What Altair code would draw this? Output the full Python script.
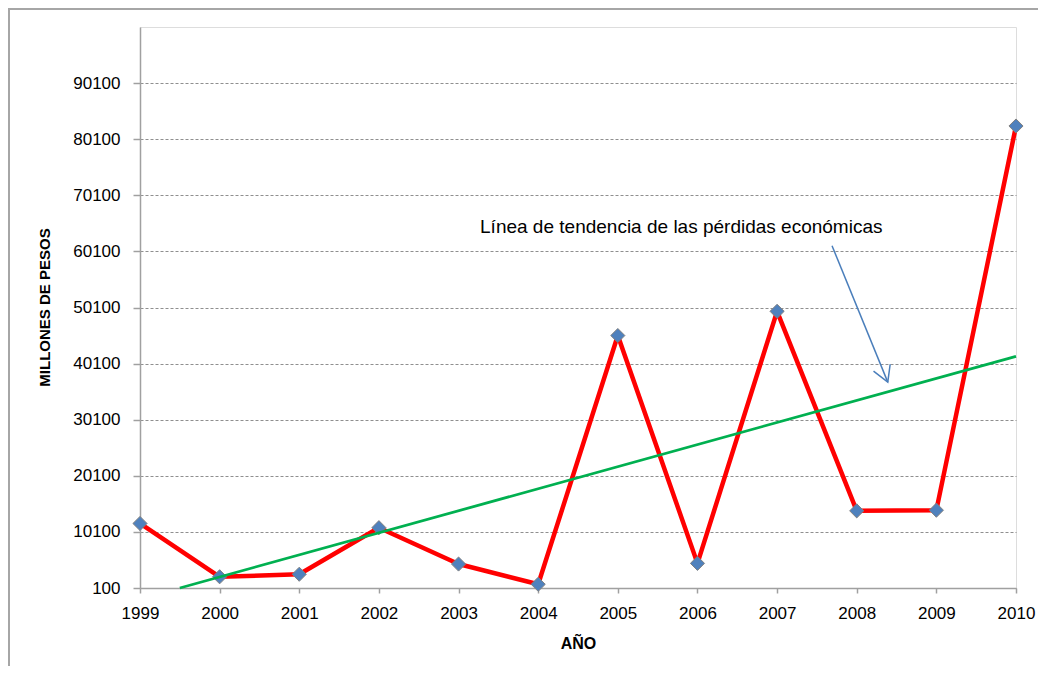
import altair as alt
import pandas as pd

# ---- data ----
years = [1999, 2000, 2001, 2002, 2003, 2004, 2005, 2006, 2007, 2008, 2009, 2010]
losses = [11600, 2100, 2550, 10850, 4370, 760, 45100, 4490, 49420, 13850, 13970, 82450]

trend_years = [1999.5, 2010]
trend_values = [100, 41400]

y_ticks = [100, 10100, 20100, 30100, 40100, 50100, 60100, 70100, 80100, 90100]
x_ticks = years

note_text = "Línea de tendencia de las pérdidas económicas"
note_pos = {"x": 2003.27, "y": 64400}
arrow_from = {"x": 2007.69, "y": 61100}
arrow_to = {"x": 2008.39, "y": 36800}

FONT = "Liberation Sans"
W, H = 876, 561
PAD = {"left": 132, "top": 19, "right": 22, "bottom": 78}

df = pd.DataFrame({"year": years, "loss": losses})
trend = pd.DataFrame({"year": trend_years, "loss": trend_values})

xscale = alt.Scale(domain=[1999, 2010], nice=False, zero=False)
yscale = alt.Scale(domain=[100, 100100], nice=False, zero=False)

xaxis = alt.Axis(
    values=x_ticks, format="d", title="AÑO", grid=False,
    labelFont=FONT, labelFontSize=17, labelColor="#000000",
    labelBaseline="middle", labelPadding=20, labelFlush=False,
    tickSize=5, tickColor="#a0a0a0", tickWidth=1.5,
    domainColor="#a0a0a0", domainWidth=1.5,
    titleFont=FONT, titleFontSize=16, titleFontWeight="bold", titleColor="#000000",
    titleY=55, titleBaseline="middle",
)
yaxis = alt.Axis(
    values=y_ticks, format="d", title="MILLONES DE PESOS",
    grid=True, gridColor="#8f8f8f", gridDash=[3, 2], gridWidth=1,
    labelFont=FONT, labelFontSize=17, labelColor="#000000",
    labelPadding=13, labelBaseline="middle",
    tickSize=7, tickColor="#a0a0a0", tickWidth=1.5,
    domainColor="#a0a0a0", domainWidth=1.5,
    titleFont=FONT, titleFontSize=15, titleFontWeight="bold", titleColor="#000000",
    titleX=-96, titleY=280, titleAngle=-90, titleBaseline="middle", titleAlign="center",
)

base = alt.Chart(df)

red_line = base.mark_line(color="#ff0000", strokeWidth=4.5, strokeJoin="round").encode(
    x=alt.X("year:Q", scale=xscale, axis=xaxis),
    y=alt.Y("loss:Q", scale=yscale, axis=yaxis),
)

markers = base.mark_point(
    shape="diamond", size=200, filled=True, fill="#4f81bd",
    stroke="#808080", strokeWidth=1, opacity=1,
).encode(
    x=alt.X("year:Q", scale=xscale),
    y=alt.Y("loss:Q", scale=yscale),
)

trend_line = alt.Chart(trend).mark_line(color="#00b050", strokeWidth=2.75).encode(
    x=alt.X("year:Q", scale=xscale),
    y=alt.Y("loss:Q", scale=yscale),
)

note = alt.Chart(pd.DataFrame([note_pos])).mark_text(
    text=note_text, font=FONT, fontSize=19, align="left", baseline="middle", color="#000000"
).encode(x=alt.X("x:Q", scale=xscale), y=alt.Y("y:Q", scale=yscale))

arrow_df = pd.DataFrame([{"x": arrow_from["x"], "y": arrow_from["y"],
                          "x2": arrow_to["x"], "y2": arrow_to["y"]}])
arrow_line = alt.Chart(arrow_df).mark_rule(color="#4a7ebb", strokeWidth=1.5).encode(
    x=alt.X("x:Q", scale=xscale), y=alt.Y("y:Q", scale=yscale),
    x2="x2:Q", y2="y2:Q",
)
arrow_head = alt.Chart(pd.DataFrame([arrow_to])).mark_point(
    shape="M -0.5 -0.866 L 0 0 L 0.5 -0.866", size=1296, filled=False,
    stroke="#4a7ebb", strokeWidth=1.5, angle=337.6, opacity=1,
).encode(x=alt.X("x:Q", scale=xscale), y=alt.Y("y:Q", scale=yscale))

one = alt.Data(values=[{"a": 1}])
frame_left = alt.Chart(one).mark_rule(color="#a6a6a6", strokeWidth=2).encode(
    x=alt.value(-131), y=alt.value(-18), y2=alt.value(H + PAD["bottom"])
)
frame_top = alt.Chart(one).mark_rule(color="#a6a6a6", strokeWidth=2).encode(
    x=alt.value(-132), x2=alt.value(W + PAD["right"]), y=alt.value(-18)
)

chart = alt.layer(
    frame_left, frame_top, red_line, markers, trend_line, arrow_line, arrow_head, note
).properties(
    width=W, height=H, padding=PAD,
    autosize=alt.AutoSizeParams(type="none"),
).configure_view(stroke=None).configure(background="#ffffff")

chart.save("out.html", embed_options={"renderer": "svg", "actions": False})
